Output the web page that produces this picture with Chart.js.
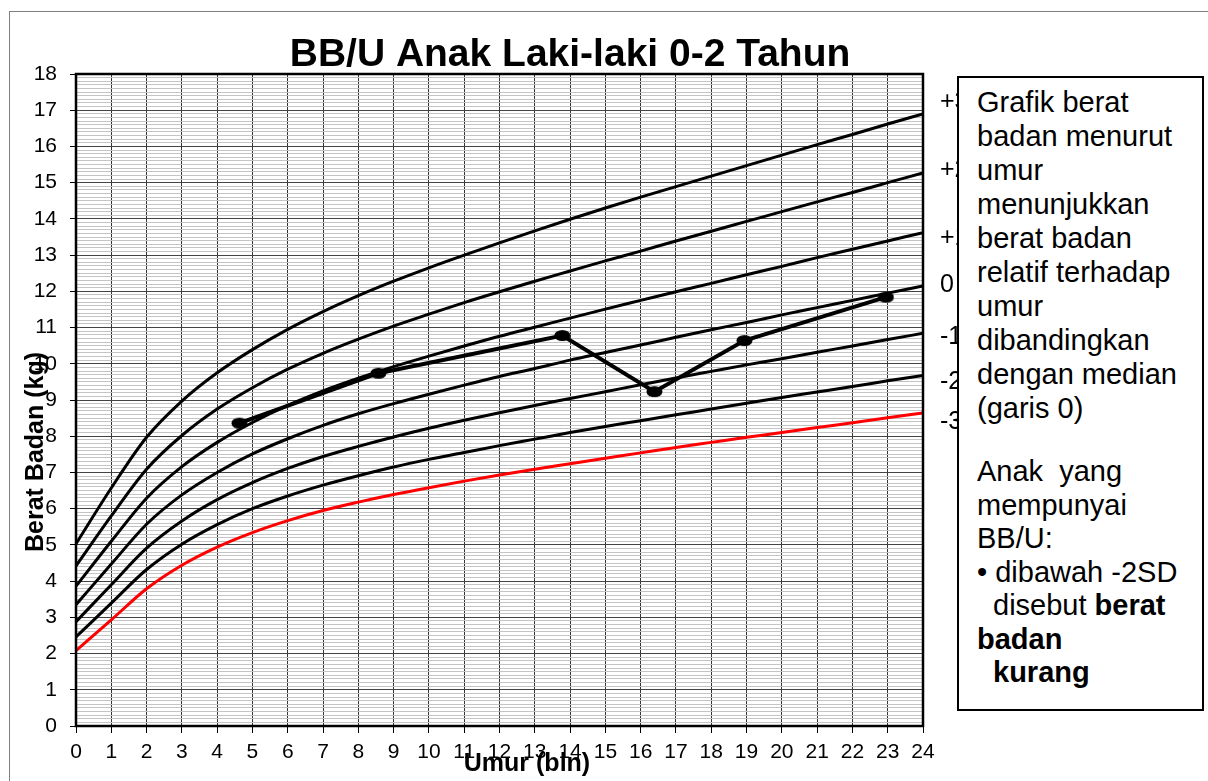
<!DOCTYPE html>
<html lang="id">
<head>
<meta charset="UTF-8">
<title>BB/U Anak Laki-laki 0-2 Tahun</title>
<script src="https://cdn.jsdelivr.net/npm/chart.js"></script>
<style>
    body { margin: 0; background: #fff; overflow: hidden; font-family: "Liberation Sans", Arial, sans-serif; }
    #wrap { position: relative; width: 1208px; height: 781px; }
    #frame { position: absolute; left: 9px; top: 11px; width: 1300px; height: 900px;
             border-left: 1px solid #7f7f7f; border-top: 1px solid #7f7f7f; }
    #chartBox { position: absolute; left: 0; top: 0; width: 1208px; height: 781px; }
    #note { position: absolute; left: 957px; top: 76px; width: 247px; height: 635px;
            box-sizing: border-box; border: 2px solid #000; background: #fff;
            padding: 7px 0 0 18px; font-size: 29px; color: #000; white-space: pre; }
    #note .l { line-height: 34px; }
    #note .l2 { line-height: 33.5px; }
    #note .gap { height: 30px; }
    #note .ind { padding-left: 16px; }
</style>
</head>
<body>
<div id="wrap">
    <div id="frame"></div>
    <div id="chartBox"><canvas id="bbuChart"></canvas></div>
    <!-- keterangan di sebelah kanan grafik -->
    <div id="note"><div class="l">Grafik berat</div><div class="l">badan menurut</div><div class="l">umur</div><div class="l">menunjukkan</div><div class="l">berat badan</div><div class="l">relatif terhadap</div><div class="l">umur</div><div class="l">dibandingkan</div><div class="l">dengan median</div><div class="l">(garis 0)</div><div class="gap"></div><div class="l2">Anak  yang</div><div class="l2">mempunyai</div><div class="l2">BB/U:</div><div class="l2">• dibawah -2SD</div><div class="l2 ind">disebut <b>berat</b></div><div class="l2"><b>badan</b></div><div class="l2 ind"><b>kurang</b></div></div>
</div>
<script>
// umur dalam bulan (0-24)
const months = [0, 1, 2, 3, 4, 5, 6, 7, 8, 9, 10, 11, 12, 13, 14, 15, 16, 17, 18, 19, 20, 21, 22, 23, 24];

// kurva standar BB/U laki-laki (kg)
const sdPlus3  = [5.03, 6.57, 7.97, 8.97, 9.75, 10.39, 10.95, 11.44, 11.88, 12.28, 12.65, 13.00, 13.34, 13.67, 13.99, 14.30, 14.60, 14.89, 15.18, 15.47, 15.76, 16.05, 16.33, 16.62, 16.90];
const sdPlus2  = [4.42, 5.80, 7.09, 8.02, 8.75, 9.34, 9.85, 10.29, 10.68, 11.04, 11.37, 11.69, 11.99, 12.28, 12.56, 12.84, 13.11, 13.39, 13.66, 13.93, 14.20, 14.47, 14.73, 15.00, 15.27];
const sdPlus1  = [3.86, 5.10, 6.29, 7.16, 7.83, 8.38, 8.85, 9.25, 9.60, 9.92, 10.21, 10.49, 10.76, 11.01, 11.26, 11.51, 11.75, 11.99, 12.22, 12.46, 12.69, 12.93, 13.16, 13.39, 13.62];
const sdMedian = [3.35, 4.47, 5.57, 6.38, 7.00, 7.51, 7.93, 8.30, 8.62, 8.90, 9.16, 9.41, 9.65, 9.87, 10.10, 10.31, 10.52, 10.73, 10.94, 11.14, 11.35, 11.55, 11.75, 11.95, 12.15];
const sdMin1   = [2.88, 3.90, 4.91, 5.66, 6.25, 6.72, 7.11, 7.44, 7.72, 7.98, 8.22, 8.44, 8.65, 8.85, 9.04, 9.23, 9.42, 9.61, 9.79, 9.97, 10.14, 10.32, 10.49, 10.67, 10.84];
const sdMin2   = [2.46, 3.39, 4.32, 5.02, 5.56, 6.00, 6.35, 6.65, 6.91, 7.15, 7.36, 7.55, 7.74, 7.92, 8.10, 8.27, 8.43, 8.59, 8.75, 8.91, 9.07, 9.22, 9.37, 9.53, 9.68];
const sdMin3   = [2.08, 2.93, 3.79, 4.44, 4.94, 5.34, 5.67, 5.95, 6.18, 6.39, 6.58, 6.76, 6.93, 7.09, 7.24, 7.39, 7.54, 7.69, 7.83, 7.97, 8.10, 8.24, 8.37, 8.51, 8.64];
const sdNames  = ['+3', '+2', '+1', '0', '-1', '-2', '-3'];

// hasil penimbangan anak
const childAge    = [4.63, 8.57, 13.78, 16.39, 18.94, 22.95];
const childWeight = [8.36, 9.74, 10.78, 9.23, 10.64, 11.84];

const chartTitle = 'BB/U Anak Laki-laki 0-2 Tahun';
const xTitle = 'Umur (bln)';
const yTitle = 'Berat Badan (kg)';

const FONT = '"Liberation Sans", Arial, sans-serif';

// titik berbentuk elips seperti pada excel
function makeDot() {
    const c = document.createElement('canvas');
    c.width = 17; c.height = 13;
    const g = c.getContext('2d');
    g.fillStyle = '#000';
    g.beginPath();
    g.ellipse(8.5, 6.5, 8, 5.5, 0, 0, Math.PI * 2);
    g.fill();
    return c;
}

const sdLines = [sdPlus3, sdPlus2, sdPlus1, sdMedian, sdMin1, sdMin2, sdMin3];
const datasets = sdLines.map((vals, i) => ({
    label: sdNames[i],
    data: months.map((m, k) => ({ x: m, y: vals[k] })),
    borderColor: i === 6 ? '#ff0000' : '#000',
    borderWidth: 3,
    pointRadius: 0,
    cubicInterpolationMode: 'monotone',
    fill: false
}));
datasets.push({
    label: 'anak',
    data: childAge.map((a, k) => ({ x: a, y: childWeight[k] })),
    borderColor: '#000',
    borderWidth: 4,
    pointStyle: makeDot(),
    pointRadius: 6,
    tension: 0
});

const isWhole = v => Math.abs(v - Math.round(v)) < 1e-6;

// geser label SD sedikit dari ujung kurva (px)
const labelShift = [-12, -3, 5, -1, 4, 7, 9];

const textPlugin = {
    id: 'bbuText',
    afterDatasetsDraw(chart) {
        const { ctx, chartArea: a, scales } = chart;
        ctx.save();
        // bingkai area grafik
        ctx.strokeStyle = '#000';
        ctx.lineWidth = 2.5;
        ctx.strokeRect(a.left, a.top, a.right - a.left, a.bottom - a.top);
        // label garis SD di kanan (sebagian tertutup kotak keterangan)
        ctx.fillStyle = '#000';
        ctx.font = '25px ' + FONT;
        ctx.textAlign = 'left';
        ctx.textBaseline = 'middle';
        sdLines.forEach((vals, i) => {
            const y = scales.y.getPixelForValue(vals[vals.length - 1]) + labelShift[i];
            ctx.fillText(sdNames[i], a.right + 17, y);
        });
        ctx.restore();
    },
    afterDraw(chart) {
        const { ctx } = chart;
        ctx.save();
        ctx.fillStyle = '#000';
        ctx.textAlign = 'center';
        ctx.textBaseline = 'alphabetic';
        ctx.font = 'bold 39px ' + FONT;
        ctx.fillText(chartTitle, 570, 66);
        ctx.font = 'bold 25px ' + FONT;
        ctx.fillText(xTitle, 527, 771);
        ctx.translate(43, 452);
        ctx.rotate(-Math.PI / 2);
        ctx.fillText(yTitle, 0, 0);
        ctx.restore();
    }
};

new Chart(document.getElementById('bbuChart'), {
    type: 'line',
    data: { datasets },
    plugins: [textPlugin],
    options: {
        responsive: true,
        maintainAspectRatio: false,
        animation: false,
        layout: { padding: { left: 0, top: 74, right: 285, bottom: 0 } },
        plugins: { legend: { display: false }, tooltip: { enabled: false }, title: { display: false } },
        scales: {
            x: {
                type: 'linear', min: 0, max: 24,
                afterFit: s => { s.height = 55; },
                ticks: { stepSize: 1, autoSkip: false, maxRotation: 0, color: '#000', padding: 7,
                         font: { size: 21, family: FONT } },
                grid: { color: '#333', lineWidth: 1, tickLength: 7, tickColor: '#000' },
                border: { display: false }
            },
            y: {
                min: 0, max: 18,
                afterFit: s => { s.width = 76; },
                ticks: {
                    stepSize: 0.1, autoSkip: false, color: '#000', padding: 13,
                    font: { size: 21, family: FONT },
                    callback: v => isWhole(v) ? String(Math.round(v)) : ''
                },
                grid: {
                    tickLength: 6,
                    color: c => isWhole(c.tick.value) ? '#444' : '#c4c4c4',
                    tickColor: c => isWhole(c.tick.value) ? '#000' : 'rgba(0,0,0,0)',
                    lineWidth: 1
                },
                border: { display: false }
            }
        }
    }
});
</script>
</body>
</html>
